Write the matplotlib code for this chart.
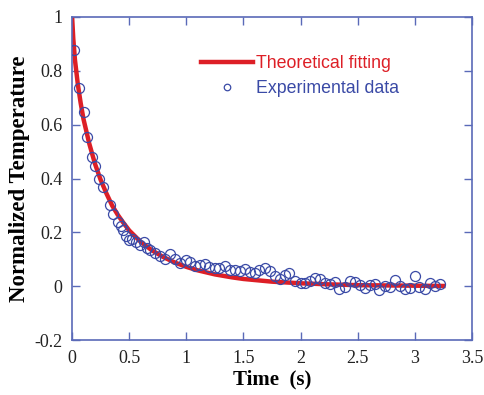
import matplotlib
matplotlib.use('Agg')
import matplotlib.pyplot as plt
import numpy as np

# theoretical fitting curve
fit_t = [0.0, 0.01, 0.025, 0.05, 0.075, 0.1, 0.15, 0.2, 0.25, 0.3, 0.35, 0.4, 0.45, 0.5,
         0.6, 0.7, 0.8, 0.9, 1.0, 1.1, 1.25, 1.4, 1.5, 1.75, 2.0, 2.25, 2.5, 2.75, 3.0, 3.25]
fit_v = [1.0, 0.92, 0.84, 0.75, 0.68, 0.62, 0.53, 0.455, 0.395, 0.345, 0.30, 0.265, 0.235, 0.207,
         0.165, 0.133, 0.108, 0.088, 0.072, 0.059, 0.044, 0.033, 0.027, 0.017, 0.011, 0.007,
         0.004, 0.003, 0.002, 0.001]

# experimental data points
exp_t = [0.02, 0.06, 0.1, 0.13, 0.175, 0.2, 0.236, 0.27, 0.33, 0.36, 0.40, 0.43, 0.446, 0.47,
         0.5, 0.525, 0.56, 0.595, 0.63, 0.656, 0.68, 0.726, 0.77, 0.81, 0.857, 0.9, 0.945, 1.0,
         1.03, 1.08, 1.12, 1.16, 1.2, 1.25, 1.29, 1.34, 1.38, 1.43, 1.47, 1.51, 1.56, 1.6, 1.64,
         1.69, 1.73, 1.78, 1.82, 1.86, 1.9, 1.95, 2.0, 2.04, 2.08, 2.13, 2.17, 2.21, 2.26, 2.3,
         2.34, 2.39, 2.43, 2.48, 2.52, 2.56, 2.61, 2.65, 2.69, 2.74, 2.78, 2.83, 2.87, 2.91, 2.96,
         3.0, 3.04, 3.09, 3.13, 3.18, 3.22]
exp_v = [0.877, 0.736, 0.647, 0.554, 0.48, 0.446, 0.40, 0.368, 0.30, 0.27, 0.24, 0.223, 0.21,
         0.186, 0.17, 0.175, 0.163, 0.152, 0.163, 0.141, 0.134, 0.123, 0.112, 0.10, 0.119, 0.10,
         0.086, 0.097, 0.09, 0.074, 0.078, 0.082, 0.07, 0.067, 0.067, 0.074, 0.06, 0.06, 0.056,
         0.063, 0.052, 0.048, 0.06, 0.067, 0.056, 0.037, 0.026, 0.041, 0.048, 0.019, 0.011, 0.011,
         0.019, 0.03, 0.026, 0.011, 0.007, 0.015, -0.011, -0.004, 0.019, 0.015, 0.004, -0.007,
         0.004, 0.007, -0.015, 0.0, -0.004, 0.022, 0.0, -0.011, -0.007, 0.037, -0.004, -0.011,
         0.011, 0.0, 0.007]

xticks = [0, 0.5, 1, 1.5, 2, 2.5, 3, 3.5]
xticklabels = ['0', '0.5', '1', '1.5', '2', '2.5', '3', '3.5']
yticks = [-0.2, 0, 0.2, 0.4, 0.6, 0.8, 1]
yticklabels = ['-0.2', '0', '0.2', '0.4', '0.6', '0.8', '1']

red = '#dd1f26'
blue = '#3a4aa6'
axcol = '#5a6ab8'

fig = plt.figure(figsize=(4.84, 3.95), dpi=100)
ax = fig.add_axes([0.149, 0.139, 0.826, 0.818])

ax.plot(fit_t, fit_v, color=red, lw=3.2, label='Theoretical fitting', zorder=2)
ax.plot(exp_t, exp_v, 'o', ms=7.2, mfc='none', mec=blue, mew=0.9,
        label='Experimental data', zorder=3)

ax.set_xlim(0, 3.5)
ax.set_ylim(-0.2, 1)
ax.set_xticks(xticks)
ax.set_xticklabels(xticklabels)
ax.set_yticks(yticks)
ax.set_yticklabels(yticklabels)

for s in ax.spines.values():
    s.set_color(axcol)
    s.set_linewidth(1.2)
ax.tick_params(direction='in', length=6, width=1, color=axcol, top=True, right=True,
               labelsize=13, pad=7, labelcolor='#222222')
for lab in ax.get_xticklabels() + ax.get_yticklabels():
    lab.set_family('Liberation Serif')

ax.set_xlabel('Time  (s)', family='Liberation Serif', weight='bold', fontsize=15, labelpad=2)
ax.set_ylabel('Normalized Temperature', family='Liberation Serif', weight='bold',
              fontsize=16.5, labelpad=3)

leg = ax.legend(loc='upper left', bbox_to_anchor=(0.283, 0.932), frameon=False,
                prop={'family': 'Liberation Sans', 'size': 12.8}, labelcolor=[red, blue],
                handlelength=2.9, handletextpad=0.2, markerscale=0.65, labelspacing=0.45)

fig.savefig('out.png', dpi=100)
